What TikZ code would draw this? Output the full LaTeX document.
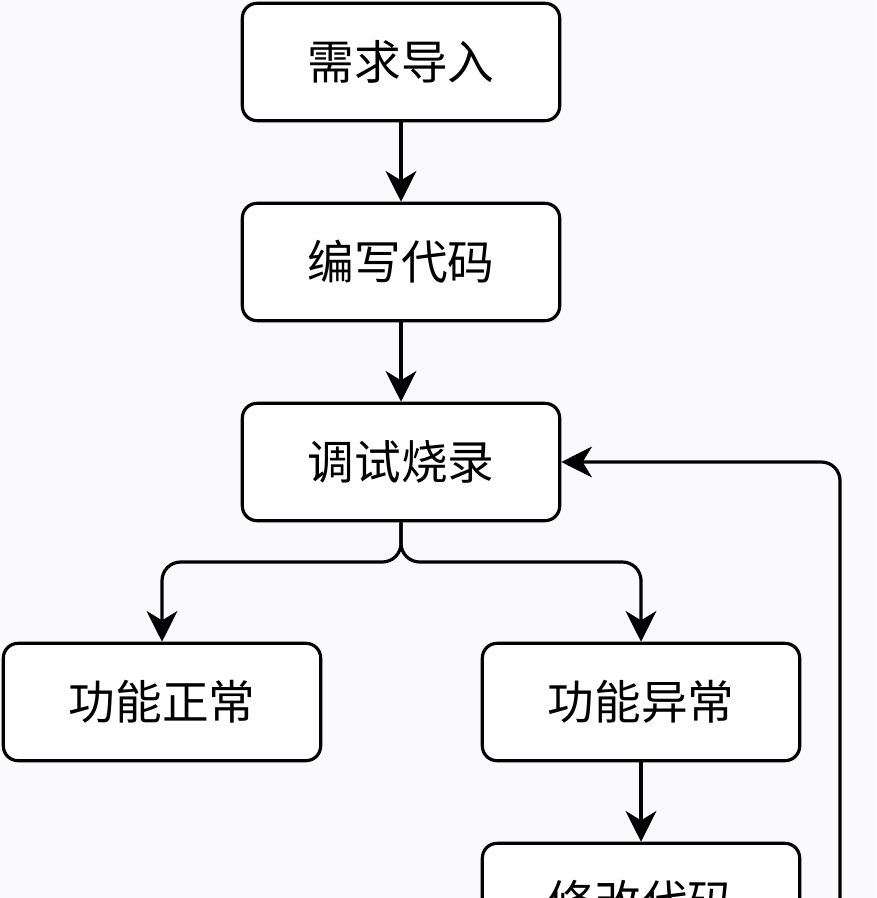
\documentclass[tikz,border=0pt]{standalone}
\usepackage{fontspec}
\newfontfamily\cjk{Noto Sans CJK SC}
\usetikzlibrary{arrows.meta}
\definecolor{bg}{RGB}{250,250,252}
\begin{document}
\begin{tikzpicture}[x=0.75pt,y=-0.75pt,
  box/.style={draw=black,line width=2.4pt,rounded corners=11pt,fill=white,
    minimum width=238pt,minimum height=88pt,inner sep=0pt,
    font=\cjk\fontsize{35}{40}\selectfont},
  conn/.style={draw=black,line width=2.4pt,rounded corners=14pt,
    -{Stealth[length=23pt,width=23pt,inset=7pt]}}]
\useasboundingbox (0,0) rectangle (876,898);
\fill[bg] (0,0) rectangle (876,898);
\clip (0,0) rectangle (876,898);
\node[box] (req) at (401,62) {需求导入};
\node[box] (code) at (401,262) {编写代码};
\node[box] (debug) at (401,462) {调试烧录};
\node[box] (ok) at (162,702) {功能正常};
\node[box] (err) at (641,702) {功能异常};
\node[box] (fix) at (641,902) {修改代码};
\coordinate (split) at (401,562);
\coordinate (loop) at (840,462);
\coordinate (fixout) at ([yshift=-30pt]fix.east);
\draw[conn] (req) -- (code);
\draw[conn] (code) -- (debug);
\draw[conn] (debug.south) -- (split) -| (ok.north);
\draw[conn] (debug.south) -- (split) -| (err.north);
\draw[conn] (err) -- (fix);
\draw[conn] (fixout) -- (fixout -| loop) -- (loop) -- (debug.east);
\end{tikzpicture}
\end{document}
